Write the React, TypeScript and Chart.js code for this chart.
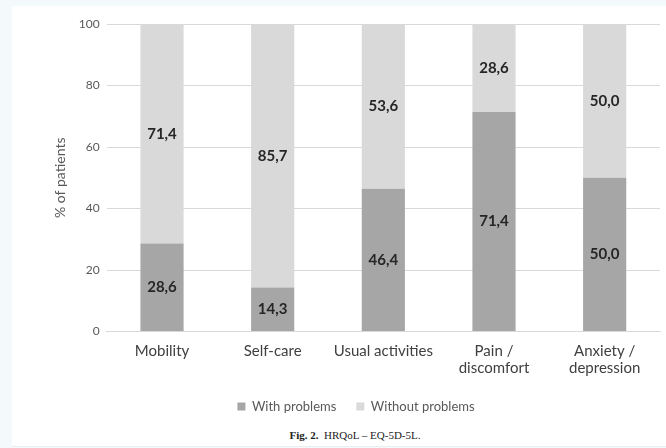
import React, { useEffect, useRef } from "react";
import { Chart, registerables } from "chart.js";

Chart.register(...registerables);

const categories: (string | string[])[] = [
  "Mobility",
  "Self-care",
  "Usual activities",
  ["Pain /", "discomfort"],
  ["Anxiety /", "depression"],
];
const withProblems = [28.6, 14.3, 46.4, 71.4, 50.0];
const withoutProblems = [71.4, 85.7, 53.6, 28.6, 50.0];
const yTicks = [0, 20, 40, 60, 80, 100];

const FONT = "Lato, 'Open Sans', sans-serif";

const labelPlugin = {
  id: "segLabels",
  afterDatasetsDraw(chart: any) {
    const ctx = chart.ctx;
    ctx.save();
    ctx.font = `bold 15px ${FONT}`;
    ctx.fillStyle = "#262626";
    ctx.textAlign = "center";
    ctx.textBaseline = "middle";
    chart.data.datasets.forEach((ds: any, di: number) => {
      const meta = chart.getDatasetMeta(di);
      meta.data.forEach((el: any, i: number) => {
        const p = el.getProps(["x", "y", "base"], true);
        const v = ds.data[i] as number;
        ctx.fillText(v.toFixed(1).replace(".", ","), p.x, (p.y + p.base) / 2);
      });
    });
    ctx.restore();
  },
};

export default function App() {
  const ref = useRef<HTMLCanvasElement | null>(null);
  useEffect(() => {
    document.body.style.margin = "0";
    if (!ref.current) return;
    const chart = new Chart(ref.current, {
      type: "bar",
      data: {
        labels: categories,
        datasets: [
          {
            label: "With problems",
            data: withProblems,
            backgroundColor: "#a6a6a6",
            categoryPercentage: 1,
            barPercentage: 0.39,
          },
          {
            label: "Without problems",
            data: withoutProblems,
            backgroundColor: "#d9d9d9",
            categoryPercentage: 1,
            barPercentage: 0.39,
          },
        ],
      },
      options: {
        animation: false,
        responsive: false,
        maintainAspectRatio: false,
        layout: { padding: { top: 18, left: 6, right: 6, bottom: 0 } },
        scales: {
          x: {
            stacked: true,
            grid: { display: false },
            border: { display: true, color: "#d9d9d9" },
            ticks: {
              color: "#404040",
              font: { family: FONT, size: 15, lineHeight: 1.15 },
              padding: 3,
              maxRotation: 0,
              autoSkip: false,
            },
          },
          y: {
            stacked: true,
            min: 0,
            max: 100,
            afterBuildTicks(axis: any) {
              axis.ticks = yTicks.map((v) => ({ value: v }));
            },
            grid: { color: "#d9d9d9", drawTicks: false },
            border: { display: false },
            ticks: {
              color: "#595959",
              font: { family: FONT, size: 12 },
              padding: 7,
            },
            title: {
              display: true,
              text: "% of patients",
              color: "#595959",
              font: { family: FONT, size: 14 },
              padding: { top: 0, bottom: 3 },
            },
          },
        },
        plugins: {
          legend: {
            position: "bottom",
            labels: {
              color: "#595959",
              font: { family: FONT, size: 13 },
              boxWidth: 8,
              boxHeight: 8,
              padding: 20,
            },
          },
          tooltip: { enabled: false },
        },
      },
      plugins: [labelPlugin],
    });
    return () => chart.destroy();
  }, []);

  return (
    <div
      style={{
        position: "absolute",
        left: 0,
        top: 0,
        width: 666,
        height: 448,
        background: "#f4f9fc",
        overflow: "hidden",
      }}
    >
      <div
        style={{
          position: "absolute",
          left: 12,
          top: 6,
          width: 654,
          height: 440,
          background: "#ffffff",
          borderBottom: "1px solid #e9eef2",
        }}
      />
      <canvas
        ref={ref}
        width={620}
        height={417}
        style={{ position: "absolute", left: 46, top: 6, width: 620, height: 417 }}
      />
      <div
        style={{
          position: "absolute",
          left: 190,
          width: 330,
          top: 429,
          textAlign: "center",
          fontFamily: "'Liberation Serif', serif",
          fontSize: 11,
          color: "#222",
        }}
      >
        <b>Fig. 2.</b>&nbsp; HRQoL – EQ-5D-5L.
      </div>
    </div>
  );
}
